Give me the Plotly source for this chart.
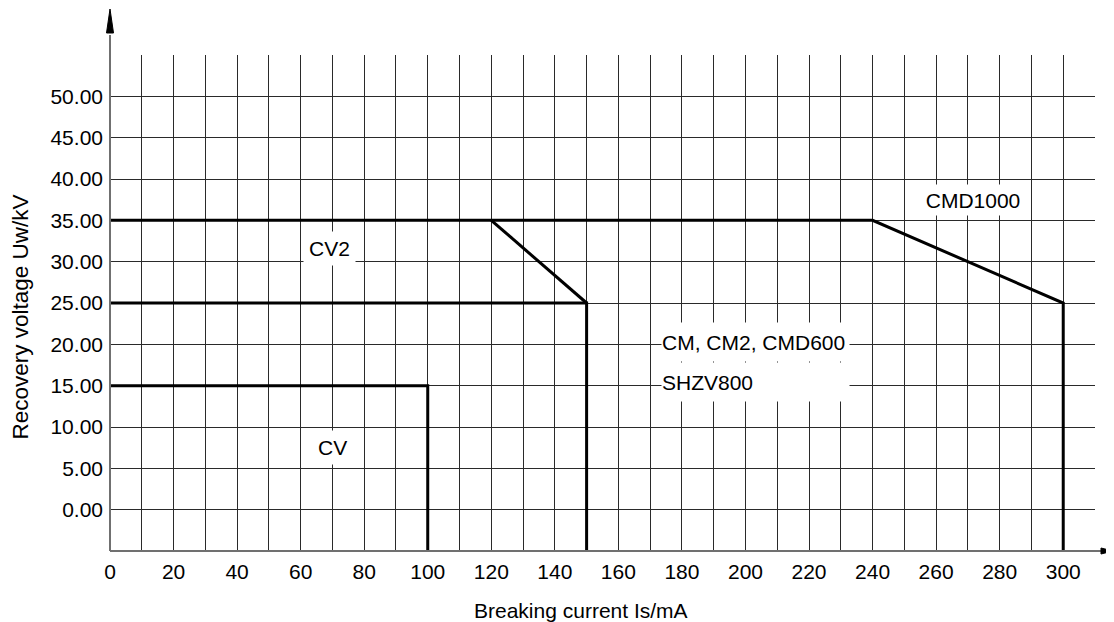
import plotly.graph_objects as go

# ---- data ----
x_grid = list(range(0, 311, 10))
x_labels = [str(v) if v % 20 == 0 and v <= 300 else "" for v in x_grid]
y_grid = list(range(-5, 56, 5))
y_labels = [f"{v:.2f}" if 0 <= v <= 50 else "" for v in y_grid]

# curve segments (breaking current mA, recovery voltage kV)
cmd1000_x = [0, 240, 300, 300]
cmd1000_y = [35, 35, 25, -5]
cm_diag_x = [120, 150]
cm_diag_y = [35, 25]
cm_x = [0, 150, 150]
cm_y = [25, 25, -5]
cv_x = [0, 100, 100]
cv_y = [15, 15, -5]

FONT = "Liberation Sans, Arial, sans-serif"

fig = go.Figure()
for xs, ys in [(cmd1000_x, cmd1000_y), (cm_diag_x, cm_diag_y), (cm_x, cm_y), (cv_x, cv_y)]:
    fig.add_trace(go.Scatter(x=xs, y=ys, mode="lines",
                             line=dict(color="black", width=3),
                             hoverinfo="skip", showlegend=False))

# plot area: 985 x 496 px; paper fractions below are pixel offsets from it
PW, PH = 985.0, 496.0
axis_gray = "#707070"
shapes = [
    # y axis line + arrow
    dict(type="line", xref="paper", yref="paper", x0=0, x1=0, y0=0, y1=(496 + 20) / PH,
         line=dict(color=axis_gray, width=2)),
    dict(type="path", xref="paper", yref="paper",
         path=f"M {-3.5/PW},{(496+22)/PH} L 0,{(496+46)/PH} L {3.5/PW},{(496+22)/PH} Z",
         fillcolor="black", line=dict(color="black", width=1)),
    # x axis line + arrow
    dict(type="line", xref="paper", yref="paper", x0=0, x1=(985 + 7) / PW, y0=0, y1=0,
         line=dict(color=axis_gray, width=2)),
    dict(type="path", xref="paper", yref="paper",
         path=f"M {(985+6)/PW},{3/PH} L {(985+18)/PW},0 L {(985+6)/PW},{-3/PH} Z",
         fillcolor="black", line=dict(color="black", width=1)),
]

lab_font = dict(family=FONT, size=21, color="black")
annotations = [
    dict(x=69, y=31.6, text="CV2", showarrow=False, font=lab_font,
         bgcolor="white", borderpad=5),
    dict(x=70, y=7.5, text="CV", showarrow=False, font=lab_font,
         bgcolor="white", borderpad=5),
    dict(x=173.5, y=20.3, text="CM, CM2, CMD600", showarrow=False, font=lab_font,
         xanchor="left", align="left", width=187, height=38, bgcolor="white", borderpad=0),
    dict(x=173.5, y=15.45, text="SHZV800", showarrow=False, font=lab_font,
         xanchor="left", align="left", width=187, height=38, bgcolor="white", borderpad=0),
    dict(x=271.5, y=37.4, text="CMD1000", showarrow=False, font=lab_font,
         width=106, height=30, bgcolor="white", borderpad=0),
    # axis titles
    dict(xref="paper", yref="paper", x=(581 - 110) / PW, y=(551 - 610) / PH,
         xanchor="center", yanchor="middle",
         text="Breaking current Is/mA", showarrow=False, font=lab_font),
    dict(xref="paper", yref="paper", x=(20 - 110) / PW, y=(551 - 317.5) / PH,
         xanchor="center", yanchor="middle",
         text="Recovery voltage Uw/kV", textangle=-90, showarrow=False,
         font=dict(family=FONT, size=22.5, color="black")),
]

tick_font = dict(family=FONT, size=21, color="black")
# page body has an 8px margin, so the figure is 8px smaller and shifted
fig.update_layout(
    width=1106, height=614,
    margin=dict(l=102, r=19, t=47, b=71),
    paper_bgcolor="white", plot_bgcolor="white",
    shapes=shapes, annotations=annotations,
    xaxis=dict(range=[0, 310], tickmode="array", tickvals=x_grid, ticktext=x_labels,
               showgrid=True, gridcolor="#2a2a2a", gridwidth=1, zeroline=False,
               showline=False, ticks="", tickfont=tick_font, ticklabelstandoff=6),
    yaxis=dict(range=[-5, 55], tickmode="array", tickvals=y_grid, ticktext=y_labels,
               showgrid=True, gridcolor="#2a2a2a", gridwidth=1, zeroline=False,
               showline=False, ticks="", tickfont=tick_font, ticklabelstandoff=6),
    font=dict(family=FONT),
)

fig.write_html("out.html")
